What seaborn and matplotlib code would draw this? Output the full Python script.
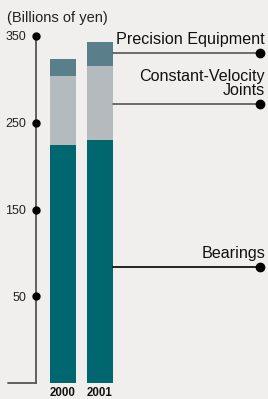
import pandas as pd
from matplotlib import pyplot as plt
import numpy as np
import seaborn as sns

# values (billions of yen)
years = ['2000', '2001']
bearings = [224, 230]
cv_joints = [80, 85]
precision = [20, 28]
segments = ['Bearings', 'Constant-Velocity\nJoints', 'Precision Equipment']
colors = ['#006670', '#b3bbbf', '#5b7f8a']
ticks = [50, 150, 250, 350]

bg = '#f0efed'

df = pd.DataFrame({'year': years, 'Bearings': bearings,
                   'CVJ': cv_joints, 'Precision': precision})
df['cvj_top'] = df['Bearings'] + df['CVJ']
df['total'] = df['cvj_top'] + df['Precision']

sns.set_theme(style='white')
plt.rcParams['font.family'] = ['Liberation Sans', 'DejaVu Sans']

fig = plt.figure(figsize=(2.68, 3.99), dpi=100, facecolor=bg)
ax = fig.add_axes([36 / 268, 16 / 399, 232 / 268, 347 / 399])
ax.set_facecolor(bg)

# stacked bars drawn as overlapping cumulative totals
sns.barplot(data=df, x='year', y='total', color=colors[2], saturation=1, width=0.70, ax=ax)
sns.barplot(data=df, x='year', y='cvj_top', color=colors[1], saturation=1, width=0.70, ax=ax)
sns.barplot(data=df, x='year', y='Bearings', color=colors[0], saturation=1, width=0.70, ax=ax)
for p in ax.patches:
    p.set_linewidth(0)


# the axis is broken below 50: 0-50 gets the same room as 50-150
def fwd(v):
    v = np.asarray(v, dtype=float)
    return np.where(v < 50, 2 * v - 50, v)


def inv(v):
    v = np.asarray(v, dtype=float)
    return np.where(v < 50, (v + 50) / 2, v)


ax.set_yscale('function', functions=(fwd, inv))
ax.set_ylim(0, 350)
ax.set_xlim(-0.73, 5.54)

ax.set_yticks(ticks)
ax.set_yticklabels([str(t) for t in ticks], fontsize=9, color='#222222')
ax.tick_params(axis='y', length=0, pad=7)
ax.tick_params(axis='x', length=0, pad=3)
ax.set_xticks([0, 1])
ax.set_xticklabels(years, fontsize=8.3, fontweight='bold', color='#111111')
ax.set_xlabel('')
ax.set_ylabel('')

for s in ['top', 'right', 'bottom']:
    ax.spines[s].set_visible(False)
ax.spines['left'].set_color('#555555')
ax.spines['left'].set_linewidth(1.3)

# black dots on the axis at each tick
ax.plot([0] * len(ticks), ticks, 'o', color='black', markersize=5,
        transform=ax.get_yaxis_transform(), clip_on=False, zorder=5)
# short baseline to the left of the axis
ax.plot([-0.121, 0], [0, 0], color='#555555', lw=1.3,
        transform=ax.get_yaxis_transform(), clip_on=False)

# leader lines from the 2001 bar to the segment labels
lows = [0, bearings[1], bearings[1] + cv_joints[1]]
highs = [bearings[1], bearings[1] + cv_joints[1], bearings[1] + cv_joints[1] + precision[1]]
nudge = [-6, -1, 1.5]
line_cols = ['black', '#555555', '#555555']
x_dot = 5.33
for name, lo, hi, dy, lc in zip(segments, lows, highs, nudge, line_cols):
    y = float(inv((fwd(lo) + fwd(hi)) / 2 + dy))
    ax.plot([1.35, x_dot], [y, y], color=lc, lw=1.2, zorder=3)
    ax.plot([x_dot], [y], 'o', color='black', markersize=6, clip_on=False, zorder=4)
    ax.text(5.46, float(inv(fwd(y) + 7)), name, ha='right', va='bottom',
            fontsize=11.6, color='#111111', linespacing=0.95)

fig.text(7 / 268, 1 - 18 / 399, '(Billions of yen)', ha='left', va='center',
         fontsize=10.5, color='#222222')

fig.savefig('out.png', dpi=100, facecolor=bg)
